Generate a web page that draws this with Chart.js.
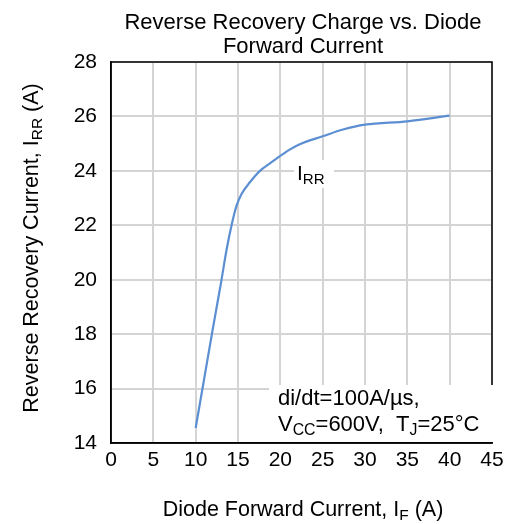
<!DOCTYPE html>
<html>
<head>
<meta charset="utf-8">
<script src="https://cdn.jsdelivr.net/npm/chart.js@4"></script>
<style>
  html,body{margin:0;padding:0;background:#fff;}
  #wrap{width:510px;height:524px;}
</style>
</head>
<body>
<div id="wrap"><canvas id="c" width="510" height="524"></canvas></div>
<script>
// data
const forwardCurrent = [10.0, 11.0, 12.0, 13.0, 13.65, 14.24, 14.83, 15.42, 16.4, 17.6, 18.8, 20.0, 21.2, 22.3, 25.0, 27.4, 30.0, 35.0, 40.0];
const recoveryCurrent = [14.55, 16.35, 18.15, 19.9, 21.1, 22.0, 22.72, 23.15, 23.58, 24.0, 24.28, 24.55, 24.8, 24.98, 25.27, 25.52, 25.7, 25.82, 26.03];
const xTicks = [0, 5, 10, 15, 20, 25, 30, 35, 40, 45];
const yTicks = [14, 16, 18, 20, 22, 24, 26, 28];

const FONT = '"Liberation Sans", Arial, sans-serif';

// draws text runs with subscripts
function drawRuns(ctx, runs, x, y, size, align) {
  let w = 0;
  runs.forEach(r => {
    ctx.font = (r.sub ? size * 0.72 : size) + 'px ' + FONT;
    w += ctx.measureText(r.t).width;
  });
  let cx = align === 'center' ? x - w / 2 : x;
  runs.forEach(r => {
    ctx.font = (r.sub ? size * 0.72 : size) + 'px ' + FONT;
    ctx.fillText(r.t, cx, r.sub ? y + size * 0.2 : y);
    cx += ctx.measureText(r.t).width;
  });
  return w;
}

const textPlugin = {
  id: 'texts',
  afterDraw(chart) {
    const ctx = chart.ctx;
    const a = chart.chartArea;
    ctx.save();
    ctx.fillStyle = '#000';
    ctx.textBaseline = 'alphabetic';
    ctx.textAlign = 'left';
    // title
    drawRuns(ctx, [{t: 'Reverse Recovery Charge vs. Diode'}], 303, 29, 22, 'center');
    drawRuns(ctx, [{t: 'Forward Current'}], 303, 53, 22, 'center');
    // x title
    drawRuns(ctx, [{t: 'Diode Forward Current, '}, {t: 'I'}, {t: 'F', sub: true}, {t: ' (A)'}], 303, 516, 21.5, 'center');
    // y title
    ctx.save();
    ctx.translate(38, 248);
    ctx.rotate(-Math.PI / 2);
    drawRuns(ctx, [{t: 'Reverse Recovery Current, '}, {t: 'I'}, {t: 'RR', sub: true}, {t: ' (A)'}], 0, 0, 21.5, 'center');
    ctx.restore();
    // curve label
    ctx.fillStyle = '#fff';
    ctx.fillRect(294, 160, 40, 28);
    ctx.fillStyle = '#000';
    drawRuns(ctx, [{t: 'I'}, {t: 'RR', sub: true}], 297, 180, 21, 'left');
    // condition box
    ctx.fillStyle = '#fff';
    ctx.fillRect(269, 385, a.right - 269 + 1, a.bottom - 385 - 1);
    ctx.fillStyle = '#000';
    drawRuns(ctx, [{t: 'di/dt=100A/\u00b5s,'}], 278, 405, 22, 'left');
    drawRuns(ctx, [{t: 'V'}, {t: 'CC', sub: true}, {t: '=600V,  T'}, {t: 'J', sub: true}, {t: '=25\u00b0C'}], 278, 431, 22, 'left');
    ctx.restore();
  }
};

new Chart(document.getElementById('c'), {
  type: 'line',
  data: {
    datasets: [{
      data: forwardCurrent.map((x, i) => ({x: x, y: recoveryCurrent[i]})),
      borderColor: '#5b8fd2',
      borderWidth: 2.2,
      pointRadius: 0,
      cubicInterpolationMode: 'monotone',
      fill: false
    }]
  },
  options: {
    responsive: false,
    animation: false,
    layout: {padding: {left: 0, right: 18, top: 62, bottom: 0}},
    plugins: {legend: {display: false}, tooltip: {enabled: false}, title: {display: false}},
    scales: {
      x: {
        type: 'linear', min: 0, max: 45,
        afterBuildTicks: s => { s.ticks = xTicks.map(v => ({value: v})); },
        afterFit: s => { s.height = 81; },
        grid: {color: '#d4d4d4', lineWidth: 2, drawTicks: false},
        border: {color: '#000', width: 1.5},
        ticks: {color: '#000', font: {size: 21, family: FONT}, padding: 5, maxRotation: 0, autoSkip: false}
      },
      y: {
        min: 14, max: 28,
        afterBuildTicks: s => { s.ticks = yTicks.map(v => ({value: v})); },
        afterFit: s => { s.width = 111; },
        grid: {color: '#d4d4d4', lineWidth: 2, drawTicks: false},
        border: {color: '#000', width: 1.5},
        ticks: {color: '#000', font: {size: 21, family: FONT}, padding: 14, autoSkip: false}
      }
    }
  },
  plugins: [{
    id: 'frame',
    afterDraw(chart) {
      const a = chart.chartArea, ctx = chart.ctx;
      ctx.save();
      ctx.strokeStyle = '#000';
      ctx.lineWidth = 1.5;
      ctx.strokeRect(a.left, a.top, a.right - a.left, a.bottom - a.top);
      ctx.restore();
    }
  }, textPlugin]
});
</script>
</body>
</html>
